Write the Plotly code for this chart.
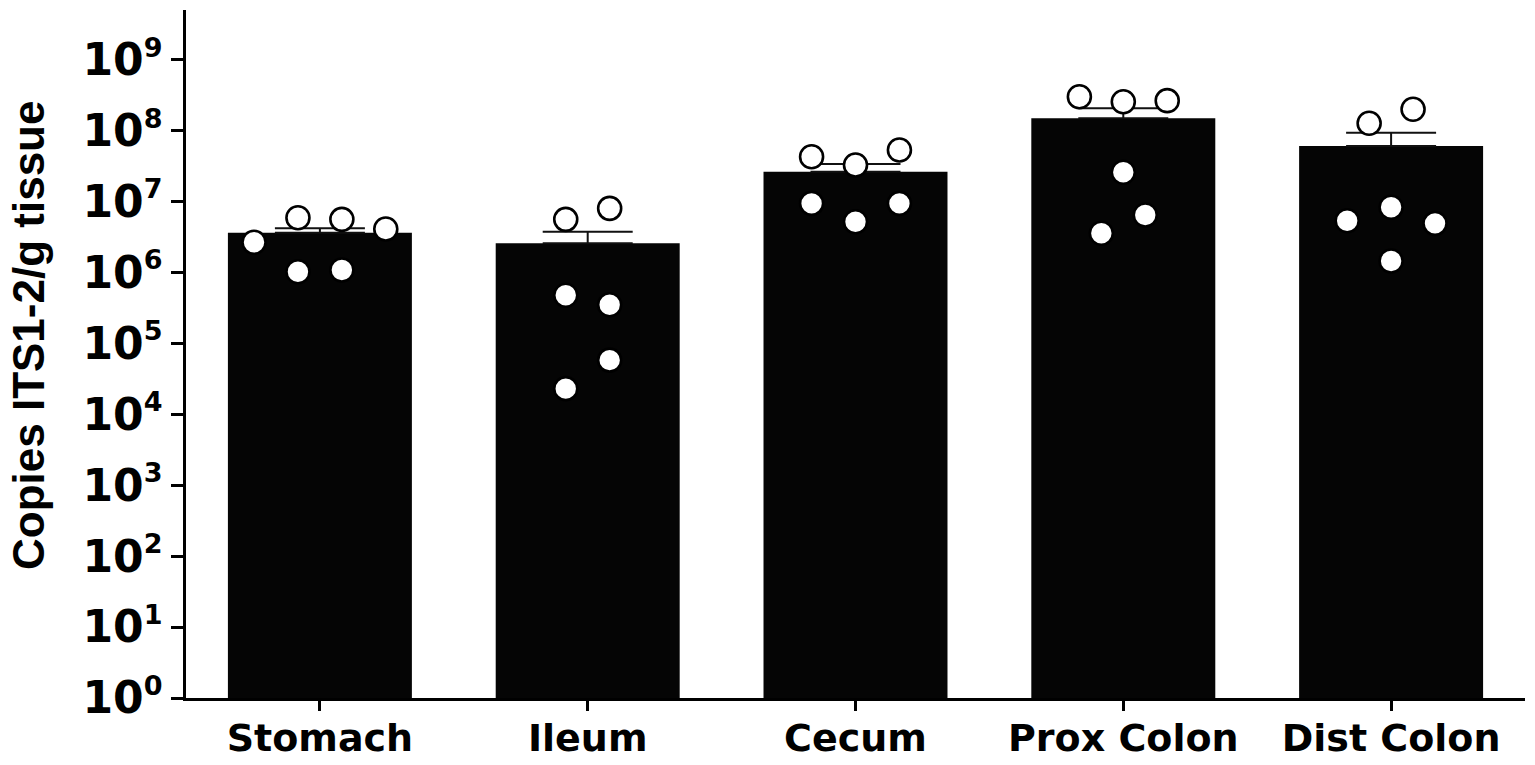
import plotly.graph_objects as go

# Tissue compartments along the gut
tissues = ["Stomach", "Ileum", "Cecum", "Prox Colon", "Dist Colon"]

# Group means and upper SEM (copies ITS1-2 per g tissue)
mean_copies = [3.63e6, 2.57e6, 2.63e7, 1.49e8, 6.06e7]
sem_copies = [0.57e6, 1.18e6, 0.74e7, 0.57e8, 3.24e7]

# Individual animals per tissue
stomach = [2.66e6, 5.9e6, 5.6e6, 4.1e6, 1.02e6, 1.08e6]
ileum = [5.6e6, 8.0e6, 4.76e5, 3.5e5, 5.8e4, 2.3e4]
cecum = [4.28e7, 3.27e7, 5.32e7, 9.4e6, 5.19e6, 9.4e6]
prox_colon = [3.0e8, 2.55e8, 2.64e8, 2.58e7, 6.45e6, 3.56e6]
dist_colon = [1.27e8, 2.0e8, 8.28e6, 5.36e6, 4.92e6, 1.45e6]

# y-axis decades
decades = list(range(0, 10))

# horizontal spread of the dots (in steps) so overlapping animals stay visible
spread_steps = [
    [-3, -1, 1, 3, -1, 1],
    [-1, 1, -1, 1, 1, -1],
    [-2, 0, 2, -2, 0, 2],
    [-2, 0, 2, 0, 1, -1],
    [-1, 1, 0, -2, 2, 0],
]
STEP = 0.082

groups = [stomach, ileum, cecum, prox_colon, dist_colon]
px_list, py_list = [], []
for i, (vals, steps) in enumerate(zip(groups, spread_steps)):
    for v, s in zip(vals, steps):
        px_list.append(i + s * STEP)
        py_list.append(v)

TICK_FONT = "DejaVu Sans"
L, R, T, B = 186, 10, 10, 67
W, H = 1535, 765
plot_w, plot_h = W - L - R, H - T - B

fig = go.Figure()
fig.add_trace(go.Bar(
    x=list(range(len(tissues))),
    y=mean_copies,
    marker=dict(color="#050505", line=dict(width=0)),
    width=0.687,
    error_y=dict(type="data", symmetric=False, array=sem_copies,
                 arrayminus=[0] * len(sem_copies),
                 color="#111111", thickness=2, width=45),
    showlegend=False,
))
fig.add_trace(go.Scatter(
    x=px_list, y=py_list, mode="markers",
    marker=dict(size=23, color="white", line=dict(color="black", width=2.6)),
    showlegend=False,
))

tick_text = [f'10<sup><span style="font-size:27px">{k}</span></sup>' for k in decades]

fig.update_layout(
    width=W, height=H,
    margin=dict(l=L, r=R, t=T, b=B, autoexpand=False),
    paper_bgcolor="white", plot_bgcolor="white",
    xaxis=dict(
        range=[-0.5, 4.5], tickmode="array", automargin=False,
        tickvals=list(range(len(tissues))), ticktext=tissues,
        showgrid=False, zeroline=False,
        showline=True, linecolor="black", linewidth=2.5,
        ticks="outside", ticklen=10, tickwidth=2.5, tickcolor="black",
        ticklabelstandoff=-5,
        tickfont=dict(family=TICK_FONT, size=38, color="black", weight="bold"),
    ),
    yaxis=dict(
        type="log", range=[0, 9.7], tickmode="array", automargin=False,
        tickvals=[10 ** k for k in decades], ticktext=tick_text,
        showgrid=False, zeroline=False,
        showline=True, linecolor="black", linewidth=2.5,
        ticks="outside", ticklen=12, tickwidth=2.5, tickcolor="black",
        tickfont=dict(family=TICK_FONT, size=44, color="black", weight="bold"),
    ),
    annotations=[dict(
        text="Copies ITS1-2/g tissue", textangle=-90,
        xref="paper", yref="paper",
        x=(29 - L) / plot_w, y=(H - B - 336) / plot_h,
        xanchor="center", yanchor="middle", showarrow=False,
        font=dict(family="Liberation Sans", size=44, color="black", weight="bold"),
    )],
)

fig.write_html("out.html")
